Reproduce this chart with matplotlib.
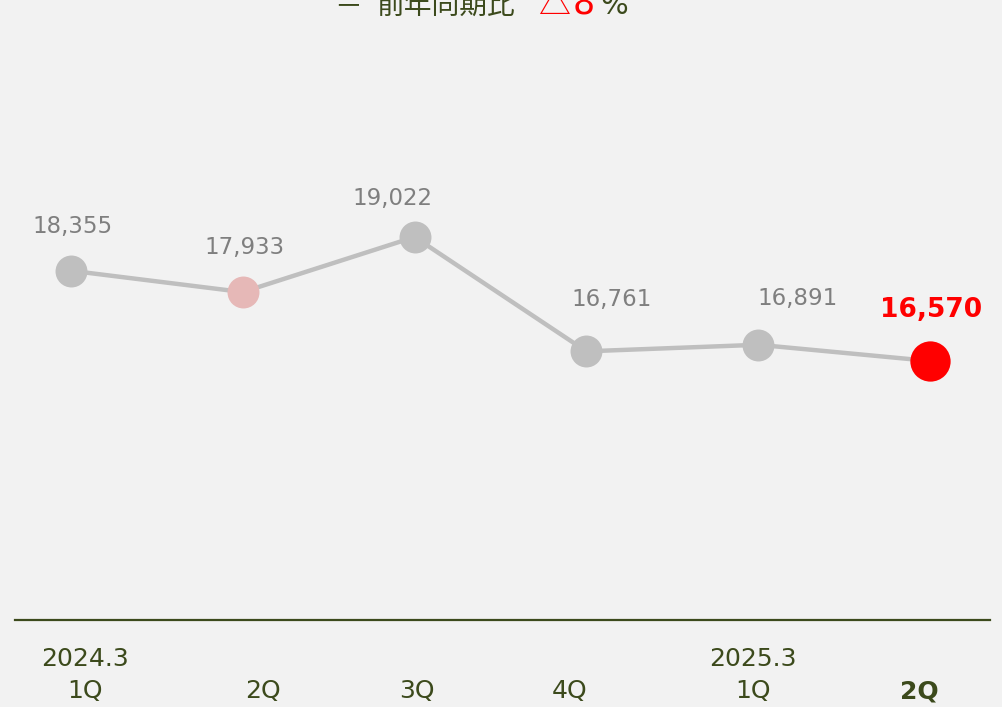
import matplotlib.pyplot as plt

# Quarterly values
quarters = ['1Q', '2Q', '3Q', '4Q', '1Q', '2Q']
years = ['2024.3', '', '', '', '2025.3', '']
values = [18355, 17933, 19022, 16761, 16891, 16570]

plt.rcParams['font.family'] = ['DejaVu Sans', 'Noto Sans CJK JP']

olive = '#3c4a1c'
gray_txt = '#7f7f7f'
bg = '#f2f2f2'

W, H = 1003, 707
fig = plt.figure(figsize=(W / 100, H / 100), dpi=100, facecolor=bg)
# axes spans pixel x 15..990, y 0..620
ax = fig.add_axes([15 / W, 1 - 620 / H, 975 / W, 620 / H], facecolor=bg)

xs = list(range(len(values)))
ax.plot(xs, values, color='#bfbfbf', lw=3.2, zorder=1)
marker_colors = ['#bfbfbf', '#e6b8b7', '#bfbfbf', '#bfbfbf', '#bfbfbf', '#ff0000']
marker_sizes = [23, 23, 23, 23, 23, 29]
for x, v, c, s in zip(xs, values, marker_colors, marker_sizes):
    ax.plot(x, v, 'o', color=c, ms=s, mec='none', zorder=2)

# label offsets in points (dx, dy)
offsets = [(1, 32), (1, 32), (-16, 28), (18, 37), (28, 33), (1, 37)]
for i, (x, v) in enumerate(zip(xs, values)):
    last = i == len(values) - 1
    ax.annotate(f'{v:,}', (x, v), xytext=offsets[i], textcoords='offset points',
                ha='center', va='center',
                fontsize=19 if last else 16.5,
                fontweight='bold' if last else 'normal',
                color='#ff0000' if last else gray_txt)

ax.set_xlim((15 - 71) / 171.8, (990 - 71) / 171.8)
ax.set_ylim(11448, 23709)
for side in ['top', 'left', 'right']:
    ax.spines[side].set_visible(False)
ax.spines['bottom'].set_color(olive)
ax.spines['bottom'].set_linewidth(1.6)
ax.set_xticks([])
ax.set_yticks([])

# category labels below the axis
label_x = [85, 263, 417, 570, 753, 919]
for i, (q, yr) in enumerate(zip(quarters, years)):
    fx = label_x[i] / W
    last = i == len(quarters) - 1
    fig.text(fx, 1 - 691 / H, q, ha='center', va='center', fontsize=18,
             color=olive, fontweight='bold' if last else 'normal')
    if yr:
        fig.text(fx, 1 - 659 / H, yr, ha='center', va='center', fontsize=18, color=olive)

# header (clipped at top)
base = 1 - 14 / H
fig.text(348 / W, base, '－', ha='center', va='baseline', fontsize=20, color=olive,
         family=['Noto Sans CJK JP'])
fig.text(377 / W, base, '前年同期比', ha='left', va='baseline', fontsize=20, color=olive,
         family=['Noto Sans CJK JP'])
fig.text(538 / W, base, '△', ha='left', va='baseline', fontsize=23, color='#ff0000',
         family=['Noto Sans CJK JP'])
fig.text(573 / W, base, '8', ha='left', va='baseline', fontsize=25, color='#ff0000')
fig.text(600 / W, base, '%', ha='left', va='baseline', fontsize=21, color=olive)

fig.savefig('out.png', dpi=100, facecolor=bg)
